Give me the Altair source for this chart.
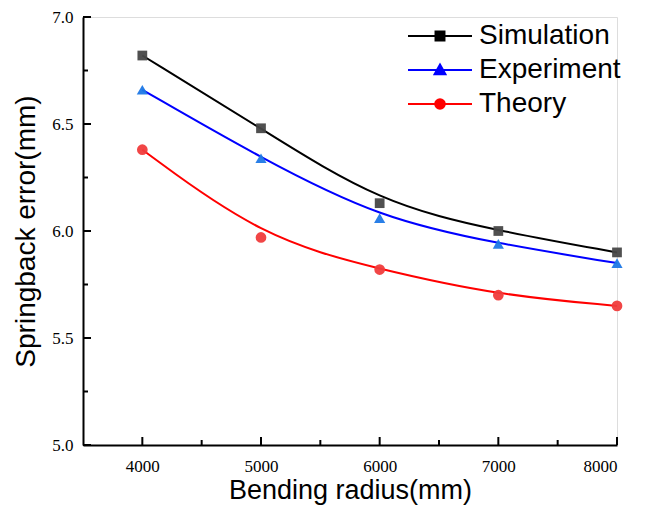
import altair as alt
import pandas as pd

# ---- data ----
radius = [4000, 5000, 6000, 7000, 8000]
simulation = [6.82, 6.48, 6.13, 6.00, 5.90]
experiment = [6.66, 6.34, 6.06, 5.94, 5.85]
theory = [6.38, 5.97, 5.82, 5.70, 5.65]
series_names = ["Simulation", "Experiment", "Theory"]

x_major = [4000, 5000, 6000, 7000, 8000]
x_minor = [4500, 5500, 6500, 7500]
y_major = [5.0, 5.5, 6.0, 6.5, 7.0]
y_minor = [5.25, 5.75, 6.25, 6.75]

# ---- styles ----
line_colors = ["#000000", "#0000ff", "#ff0000"]
marker_colors = ["#474747", "#1e78e6", "#f03c3c"]
marker_shapes = ["square", "triangle-up", "circle"]
marker_sizes = [95, 125, 115]
legend_paths = [
    "M-1,0H1M-0.14,-0.14H0.14V0.14H-0.14Z",
    "M-1,0H1M0,-0.17L0.17,0.13L-0.17,0.13Z",
    "M-1,0H1M-0.15,0A0.15,0.15,0,1,0,0.15,0A0.15,0.15,0,1,0,-0.15,0Z",
]

W, H = 534, 428

df = pd.DataFrame({
    "x": radius * 3,
    "y": simulation + experiment + theory,
    "series": [s for s in series_names for _ in radius],
})

xs = alt.Scale(domain=[3500, 8000], nice=False, zero=False)
ys = alt.Scale(domain=[5.0, 7.0], nice=False, zero=False)

x_axis = alt.Axis(
    title="Bending radius(mm)", values=x_major, format="d", ticks=False, grid=False,
    domainColor="black", domainWidth=2,
    labelFont="Liberation Serif", labelFontSize=17, labelColor="black", labelPadding=13,
    titleFont="Liberation Sans", titleFontSize=27, titleFontWeight="normal",
    titleColor="black", titlePadding=3,
)
y_axis = alt.Axis(
    title="Springback error(mm)", values=y_major, format=".1f", ticks=False, grid=False,
    domainColor="black", domainWidth=2,
    labelFont="Liberation Serif", labelFontSize=17, labelColor="black", labelPadding=10,
    titleFont="Liberation Sans", titleFontSize=28, titleFontWeight="normal",
    titleColor="black", titlePadding=11,
)

layers = []

# inward ticks
def xticks(vals, length):
    return alt.Chart(pd.DataFrame({"v": vals})).mark_rule(color="black", strokeWidth=2).encode(
        x=alt.X("v:Q", scale=xs, axis=x_axis), y=alt.value(H), y2=alt.value(H - length))

def yticks(vals, length):
    return alt.Chart(pd.DataFrame({"v": vals})).mark_rule(color="black", strokeWidth=2).encode(
        y=alt.Y("v:Q", scale=ys, axis=y_axis), x=alt.value(0), x2=alt.value(length))

layers += [xticks(x_major, 8), xticks(x_minor, 5), yticks(y_major, 8), yticks(y_minor, 5)]

base = alt.Chart(df)

# smoothed curves (B-spline through the measured points), one layer per series
for s, c in zip(series_names, line_colors):
    layers.append(
        base.transform_filter(alt.datum.series == s)
        .mark_line(color=c, strokeWidth=2, interpolate="basis")
        .encode(
            x=alt.X("x:Q", scale=xs, axis=x_axis),
            y=alt.Y("y:Q", scale=ys, axis=y_axis),
            order=alt.Order("x:Q"),
        )
    )

# markers
for s, c, sh, sz in zip(series_names, marker_colors, marker_shapes, marker_sizes):
    layers.append(
        base.transform_filter(alt.datum.series == s)
        .mark_point(filled=True, shape=sh, size=sz, color=c, opacity=0.95)
        .encode(x=alt.X("x:Q", scale=xs, axis=x_axis), y=alt.Y("y:Q", scale=ys, axis=y_axis))
    )

# legend-only layer
leg = alt.Legend(
    title=None, orient="none", legendX=324, legendY=2, direction="vertical",
    symbolSize=4096, symbolStrokeWidth=2, clipHeight=34, rowPadding=0,
    labelFont="Liberation Sans", labelFontSize=28, labelColor="black", labelOffset=6,
    symbolOpacity=1,
)
layers.append(
    base.mark_point(filled=True, opacity=0).encode(
        x=alt.X("x:Q", scale=xs, axis=x_axis),
        y=alt.Y("y:Q", scale=ys, axis=y_axis),
        fill=alt.Fill("series:N", scale=alt.Scale(domain=series_names, range=line_colors), legend=leg),
        stroke=alt.Stroke("series:N", scale=alt.Scale(domain=series_names, range=line_colors), legend=leg),
        shape=alt.Shape("series:N", scale=alt.Scale(domain=series_names, range=legend_paths), legend=leg),
    )
)

chart = alt.layer(*layers).properties(
    width=W, height=H,
    autosize=alt.AutoSizeParams(type="none"),
    padding={"left": 75, "top": 9, "right": 21, "bottom": 60},
).configure_view(stroke=None).configure(background="white")

chart.save("out.html", embed_options={"renderer": "svg", "actions": False})
